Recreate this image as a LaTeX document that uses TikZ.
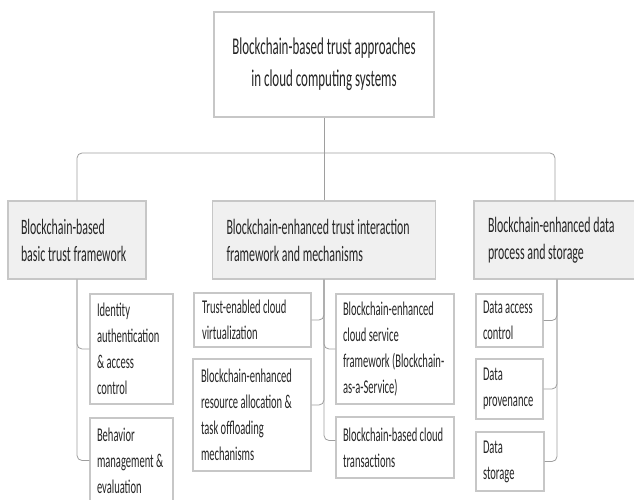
\documentclass[tikz,border=0pt]{standalone}
\usepackage{fontspec}
\setmainfont[FakeStretch=0.54]{Carlito}
\begin{document}
\begin{tikzpicture}[x=1pt,y=-1pt,
    box/.style={rectangle,draw=black!22,line width=1.1pt,text=black!85,
      align=flush left,inner xsep=0pt,inner ysep=0pt},
    rootbox/.style={box,fill=white,align=center,font=\fontsize{24}{32}\selectfont},
    topicbox/.style={box,fill=black!6,font=\fontsize{22}{27}\selectfont},
    leafbox/.style={box,fill=white,font=\fontsize{19.5}{26}\selectfont},
    link/.style={draw=black!38,line width=0.8pt,rounded corners=5pt}]
  \useasboundingbox (0,0) rectangle (634,500);
  \node[rootbox,minimum width=220pt,minimum height=105pt] (root) at (324,64.5)
    {Blockchain-based trust approaches\\in cloud computing systems};
  \node[topicbox,minimum width=138pt,minimum height=78pt,text width=112pt] (basic) at (77,240)
    {Blockchain-based\\basic trust framework};
  \node[topicbox,minimum width=223pt,minimum height=78pt,text width=195pt] (inter) at (324,240)
    {Blockchain-enhanced trust interaction\\framework and mechanisms};
  \node[topicbox,minimum width=162pt,minimum height=78pt,text width=134pt] (data) at (555,240)
    {Blockchain-enhanced data\\process and storage};
  \node[leafbox,minimum width=83pt,minimum height=110pt,text width=69pt] (ident) at (131.5,349)
    {Identity\\authentication\\\& access\\control};
  \node[leafbox,minimum width=83pt,minimum height=85pt,text width=69pt] (behav) at (131.5,460.5)
    {Behavior\\management \&\\evaluation};
  \node[leafbox,minimum width=117pt,minimum height=54pt,text width=101pt] (virt) at (252.5,320)
    {Trust-enabled cloud\\virtualization};
  \node[leafbox,minimum width=118pt,minimum height=112pt,text width=102pt] (resrc) at (252,415)
    {Blockchain-enhanced\\resource allocation \&\\task offloading\\mechanisms};
  \node[leafbox,minimum width=118pt,minimum height=110pt,text width=104pt] (cserv) at (395,349)
    {Blockchain-enhanced\\cloud service\\framework (Blockchain-\\as-a-Service)};
  \node[leafbox,minimum width=118pt,minimum height=61pt,text width=104pt] (trans) at (395,447.5)
    {Blockchain-based cloud\\transactions};
  \node[leafbox,minimum width=67pt,minimum height=53pt,text width=53pt] (dacc) at (509.5,320.5)
    {Data access\\control};
  \node[leafbox,minimum width=67pt,minimum height=60pt,text width=53pt] (dprov) at (509.5,389)
    {Data\\provenance};
  \node[leafbox,minimum width=68pt,minimum height=59pt,text width=54pt] (dstor) at (510,461.5)
    {Data\\storage};
  \coordinate (bus) at (0,153);
  \begin{scope}[link]
    \draw (root.south) -- (inter.north);
    \draw (basic.north) -- (basic.north |- bus) -- (data.north |- bus) -- (data.north);
    \draw (basic.south) |- (ident.west);
    \draw (basic.south) |- (behav.west);
    \draw (inter.south) |- (virt.east);
    \draw (inter.south) |- ([yshift=10pt]resrc.east);
    \draw (inter.south) |- (cserv.west);
    \draw (inter.south) |- ([yshift=7pt]trans.west);
    \draw ([xshift=2pt]data.south) |- (dacc.east);
    \draw ([xshift=2pt]data.south) |- (dprov.east);
    \draw ([xshift=2pt]data.south) |- (dstor.east);
  \end{scope}
\end{tikzpicture}
\end{document}
